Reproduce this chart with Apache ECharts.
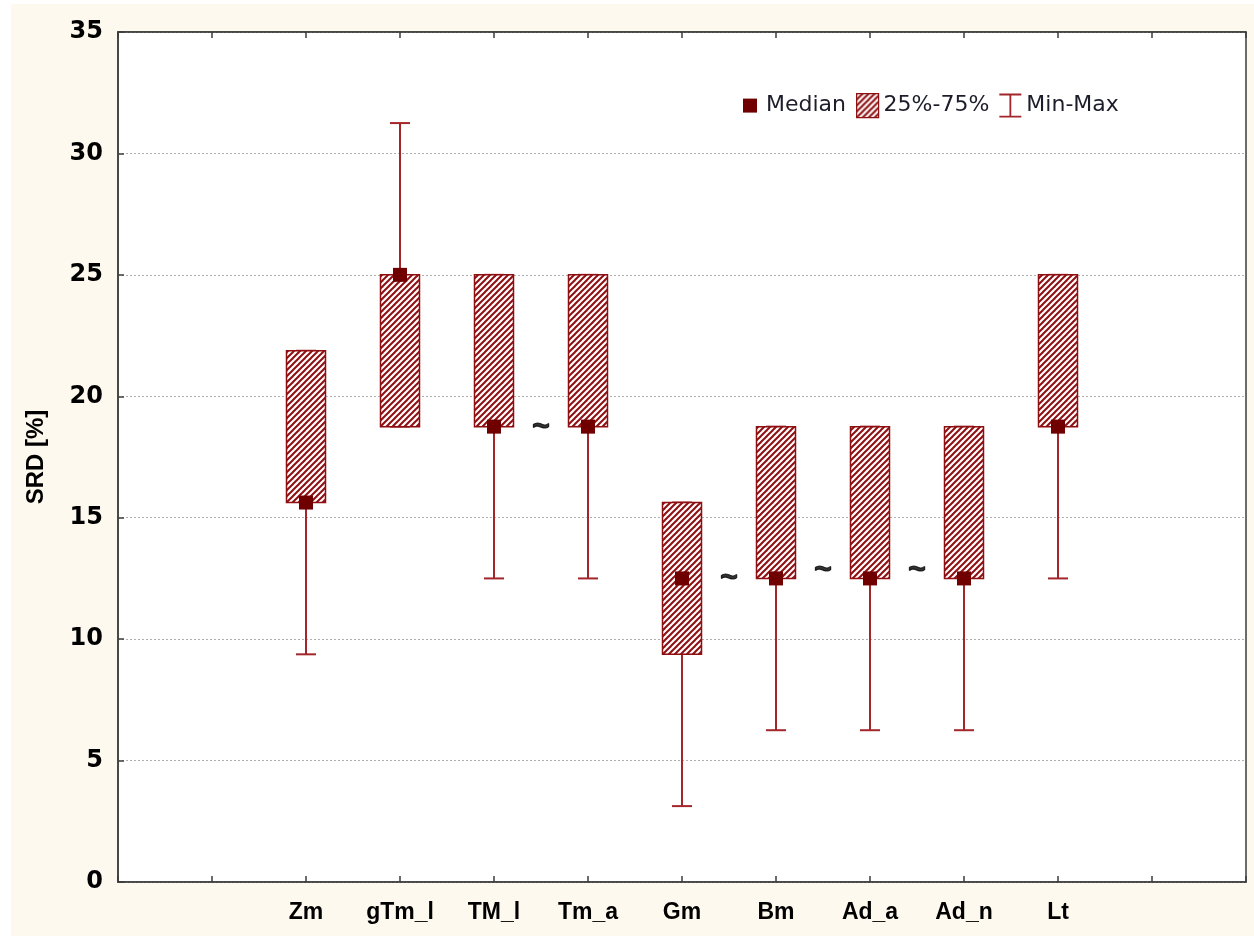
<!DOCTYPE html>
<html>
<head>
<meta charset="utf-8">
<script src="https://cdn.jsdelivr.net/npm/echarts@6/dist/echarts.min.js"></script>
<style>
  html, body { margin: 0; padding: 0; background: #ffffff; }
  #frame { position: absolute; left: 11px; top: 4px; width: 1243px; height: 932px; background: #fef9ee; }
  #chart { width: 1243px; height: 932px; }
</style>
</head>
<body>
<div id="frame"><div id="chart"></div></div>
<script>
// ---- data ----
const xTickLabels = ['', '', 'Zm', 'gTm_l', 'TM_l', 'Tm_a', 'Gm', 'Bm', 'Ad_a', 'Ad_n', 'Lt', '', ''];
const groups = ['Zm', 'gTm_l', 'TM_l', 'Tm_a', 'Gm', 'Bm', 'Ad_a', 'Ad_n', 'Lt'];
const groupPos = [2, 3, 4, 5, 6, 7, 8, 9, 10];
const minVals = [9.375, 18.75, 12.5, 12.5, 3.125, 6.25, 6.25, 6.25, 12.5];
const q1Vals = [15.625, 18.75, 18.75, 18.75, 9.375, 12.5, 12.5, 12.5, 18.75];
const medianVals = [15.625, 25, 18.75, 18.75, 12.5, 12.5, 12.5, 12.5, 18.75];
const q3Vals = [21.875, 25, 25, 25, 15.625, 18.75, 18.75, 18.75, 25];
const maxVals = [21.875, 31.25, 25, 25, 15.625, 18.75, 18.75, 18.75, 25];
const tildeX = [4.5, 6.5, 7.5, 8.5];
const tildeY = [18.7, 12.5, 12.8, 12.8];
const yTicks = [0, 5, 10, 15, 20, 25, 30, 35];

// ---- styles ----
const boxColor = '#8e0f12';
const whiskerColor = '#a3262a';
const medianColor = '#700000';

function hatch() {
  const n = 6;
  const c = document.createElement('canvas');
  c.width = n; c.height = n;
  const g = c.getContext('2d');
  g.fillStyle = '#ffffff';
  g.fillRect(0, 0, n, n);
  g.strokeStyle = boxColor;
  g.lineWidth = 2.0;
  for (const k of [-n, 0, n]) {
    g.beginPath();
    g.moveTo(k - 1, n + 1);
    g.lineTo(k + n + 1, -1);
    g.stroke();
  }
  return { image: c, repeat: 'repeat' };
}
const pattern = hatch();

const boxData = groupPos.map((p, i) => [p, q1Vals[i], q3Vals[i]]);
const whiskerData = groupPos.map((p, i) => [p, minVals[i], maxVals[i]]);
const medianData = groupPos.map((p, i) => [p, medianVals[i]]);
const tildeData = tildeX.map((x, i) => [x, tildeY[i]]);

const chart = echarts.init(document.getElementById('chart'), null, { renderer: 'canvas' });
const fontD = 'DejaVu Sans';
const fontL = 'Liberation Sans';

chart.setOption({
  animation: false,
  grid: { left: 107, right: 8, top: 28, bottom: 54, show: true, backgroundColor: '#ffffff', borderColor: '#3c3c3c', borderWidth: 1.5 },
  legend: {
    left: 728, top: 89, padding: 0, itemGap: 10, itemWidth: 22, itemHeight: 24,
    textStyle: { fontFamily: fontD, fontSize: 22, color: '#1c1c2a' },
    data: [
      { name: 'Median', icon: 'path://M0,0L0,0 M22,24L22,24 M4,5h14v14h-14z', itemStyle: { color: medianColor, opacity: 1 } },
      { name: '25%-75%', icon: 'rect', itemStyle: { color: pattern, borderColor: boxColor, borderWidth: 1.2 } },
      { name: 'Min-Max', icon: 'path://M0,0h22v1.8h-22z M10.1,1.8h1.8v20.4h-1.8z M0,22.2h22v1.8h-22z', itemStyle: { color: whiskerColor } }
    ]
  },
  xAxis: [
    {
      type: 'value', min: 0, max: 12, interval: 1, position: 'bottom',
      axisLine: { show: true, lineStyle: { color: '#3c3c3c', width: 1.5 } },
      axisTick: { show: true, inside: true, length: 6, lineStyle: { color: '#3c3c3c', width: 1.5 } },
      axisLabel: {
        margin: 19, fontFamily: fontL, fontWeight: 'bold', fontSize: 23, color: '#000',
        formatter: v => xTickLabels[Math.round(v)] || ''
      },
      splitLine: { show: false }
    },
    {
      type: 'value', min: 0, max: 12, interval: 1, position: 'top',
      axisLine: { show: true, lineStyle: { color: '#3c3c3c', width: 1.5 } },
      axisTick: { show: true, inside: true, length: 6, lineStyle: { color: '#3c3c3c', width: 1.5 } },
      axisLabel: { show: false },
      splitLine: { show: false }
    }
  ],
  yAxis: {
    type: 'value', min: 0, max: 35, interval: 5,
    name: 'SRD [%]', nameLocation: 'middle', nameGap: 70,
    nameTextStyle: { fontFamily: fontL, fontWeight: 'bold', fontSize: 24, color: '#000' },
    axisLine: { show: true, lineStyle: { color: '#3c3c3c', width: 1.5 } },
    axisTick: { show: true, inside: true, length: 6, lineStyle: { color: '#3c3c3c', width: 1.5 } },
    axisLabel: { margin: 15, fontFamily: fontD, fontWeight: 'bold', fontSize: 24, color: '#000',
      formatter: v => (yTicks.indexOf(v) >= 0 ? String(v) : '') },
    splitLine: { show: true, lineStyle: { color: '#b0b0b0', width: 1, type: [2, 2] } }
  },
  series: [
    {
      name: 'Min-Max', type: 'custom', data: whiskerData, z: 2,
      itemStyle: { color: whiskerColor },
      renderItem: (params, api) => {
        const x = api.value(0);
        const lo = api.coord([x, api.value(1)]);
        const hi = api.coord([x, api.value(2)]);
        const cw = 10;
        const st = { stroke: whiskerColor, lineWidth: 2 };
        return { type: 'group', children: [
          { type: 'line', shape: { x1: lo[0], y1: lo[1], x2: hi[0], y2: hi[1] }, style: st },
          { type: 'line', shape: { x1: lo[0] - cw, y1: lo[1], x2: lo[0] + cw, y2: lo[1] }, style: st },
          { type: 'line', shape: { x1: hi[0] - cw, y1: hi[1], x2: hi[0] + cw, y2: hi[1] }, style: st }
        ] };
      }
    },
    {
      name: '25%-75%', type: 'custom', data: boxData, z: 3,
      itemStyle: { color: pattern, borderColor: boxColor },
      renderItem: (params, api) => {
        const x = api.value(0);
        const top = api.coord([x, api.value(2)]);
        const bot = api.coord([x, api.value(1)]);
        const w = 39;
        return { type: 'rect', shape: { x: top[0] - w / 2, y: top[1], width: w, height: bot[1] - top[1] },
          style: { fill: pattern, stroke: boxColor, lineWidth: 1.5 } };
      }
    },
    {
      name: 'Median', type: 'scatter', data: medianData, z: 4,
      symbol: 'rect', symbolSize: 14, itemStyle: { color: medianColor, opacity: 1 }
    },
    {
      name: 'tilde', type: 'scatter', data: tildeData, z: 5, silent: true,
      symbolSize: 1, itemStyle: { color: 'rgba(0,0,0,0)' },
      label: { show: true, position: 'inside', formatter: '~', fontFamily: fontL, fontWeight: 'bold', fontSize: 30,
        color: '#000', textBorderColor: '#000', textBorderWidth: 1.2 }
    }
  ]
});
</script>
</body>
</html>
